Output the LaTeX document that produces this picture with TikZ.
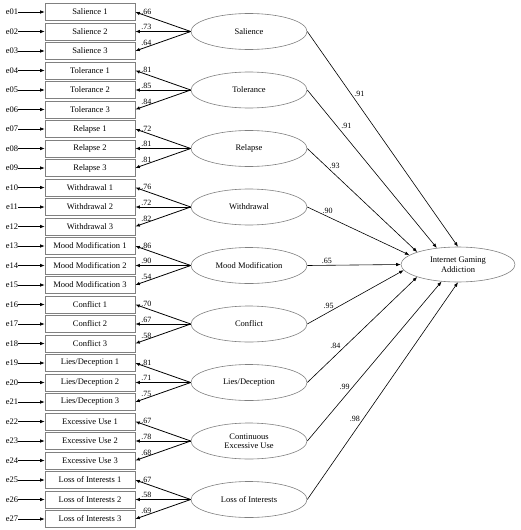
\documentclass[tikz,border=0pt]{standalone}
\usepackage{fontspec}
\setmainfont{Liberation Serif}
\usetikzlibrary{arrows.meta,shapes.geometric}
\begin{document}
\begin{tikzpicture}[x=1pt,y=-1pt,
  txt/.style={font=\fontsize{8.5}{9.5}\selectfont},
  obs/.style={txt, draw=black!50, line width=0.6pt, minimum width=90pt, minimum height=17pt, inner sep=0pt},
  lat/.style={txt, draw=black!50, line width=0.6pt, ellipse, minimum width=116pt, minimum height=36pt, inner sep=0pt, align=center},
  err/.style={txt, inner sep=0pt},
  arr/.style={-{Latex[length=4.5pt,width=3.5pt]}, line width=0.6pt},
  ldarr/.style={arr, line width=0.8pt},
  lbl/.style={font=\fontsize{8}{9}\selectfont, inner sep=1pt}]
\useasboundingbox (0,0) rectangle (520,530);

\node[lat, minimum width=114pt, minimum height=35pt] (iga) at (458,264.5) {Internet Gaming\\Addiction};

\foreach \k/\nm/\lt/\la/\lb/\lc in {
  1/Salience/Salience/.66/.73/.64,
  2/Tolerance/Tolerance/.81/.85/.84,
  3/Relapse/Relapse/.72/.81/.81,
  4/Withdrawal/Withdrawal/.76/.72/.82,
  5/Mood Modification/Mood Modification/.86/.90/.54,
  6/Conflict/Conflict/.70/.67/.58,
  7/{Lies/Deception}/{Lies/Deception}/.81/.71/.75,
  8/Excessive Use/{Continuous\\Excessive Use}/.67/.78/.68,
  9/Loss of Interests/Loss of Interests/.67/.58/.69} {
  \pgfmathsetmacro\yc{12+19.5*(3*\k-2)}
  \node[lat] (l\k) at (249,\yc) {\lt};
  \foreach \j/\lv in {1/\la,2/\lb,3/\lc} {
    \pgfmathtruncatemacro\i{3*(\k-1)+\j}
    \pgfmathsetmacro\yy{12+19.5*(\i-1)}
    \node[obs] (b\i) at (90,\yy) {\nm\ \j};
    \node[err] (e\i) at (12,\yy) {e\ifnum\i<10 0\fi\i};
    \draw[arr] (e\i) -- (b\i);
    \draw[ldarr] (l\k.west) -- node[lbl, pos=0.8, anchor=south] {\lv} (b\i.east);
  }
}

\draw[arr] (l1.east) -- node[lbl, pos=0.29, anchor=west, xshift=2pt] {.91} (iga.90);
\draw[arr] (l2.east) -- node[lbl, pos=0.23, anchor=west, xshift=3pt] {.91} (iga.142);
\draw[arr] (l3.east) -- node[lbl, pos=0.165, anchor=west, xshift=3pt] {.93} (iga.163);
\draw[arr] (l4.east) -- node[lbl, pos=0.2, anchor=south, yshift=2pt] {.90} (iga.169);
\draw[arr] (l5.east) -- node[lbl, pos=0.21, anchor=south] {.65} (iga.180);
\draw[arr] (l6.east) -- node[lbl, pos=0.22, anchor=south, yshift=2pt] {.95} (iga.186);
\draw[arr] (l7.east) -- node[lbl, pos=0.35, anchor=east, xshift=-4pt] {.84} (iga.197);
\draw[arr] (l8.east) -- node[lbl, pos=0.34, anchor=east, xshift=-2pt] {.99} (iga.226);
\draw[arr] (l9.east) -- node[lbl, pos=0.37, anchor=east, xshift=-2pt] {.98} (iga.270);
\end{tikzpicture}
\end{document}
